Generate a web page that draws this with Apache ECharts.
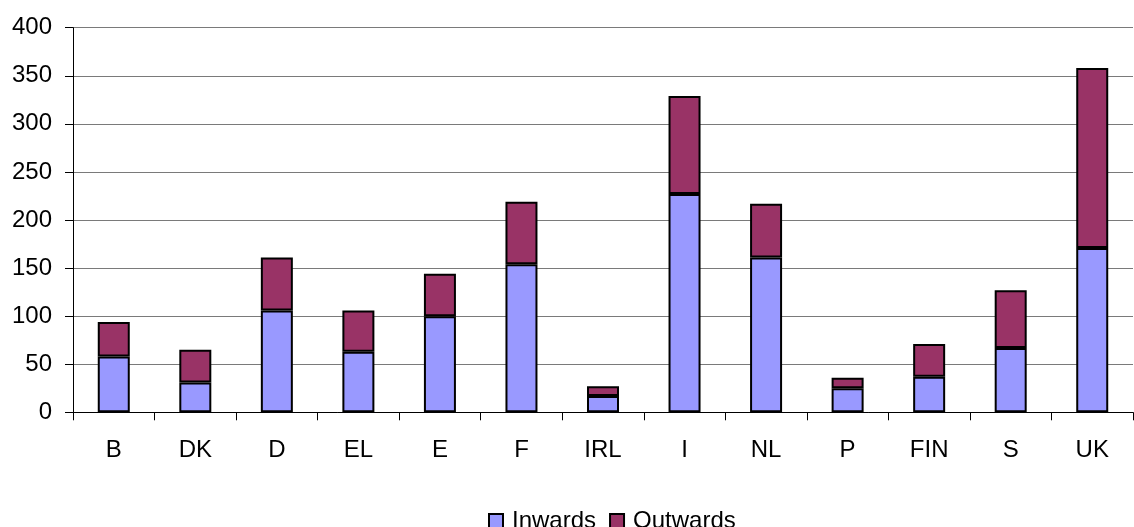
<!DOCTYPE html>
<html><head><meta charset="utf-8">
<script src="https://cdn.jsdelivr.net/npm/echarts@6/dist/echarts.min.js"></script>
<style>html,body{margin:0;padding:0;background:#fff}#c{width:1134px;height:527px}</style>
</head><body><div id="c"></div>
<script>
const categories = ['B','DK','D','EL','E','F','IRL','I','NL','P','FIN','S','UK'];
const inwards  = [58, 31, 106, 63, 100, 154, 17, 227, 161, 25, 37, 67, 171];
const outwards = [36, 34, 55, 43, 44, 65, 10, 102, 56, 11, 34, 60, 187];
const yTicks = [0, 50, 100, 150, 200, 250, 300, 350, 400];

const font = '"Liberation Sans", Arial, sans-serif';
const chart = echarts.init(document.getElementById('c'), null, {renderer: 'canvas'});
chart.setOption({
  animation: false,
  backgroundColor: '#fff',
  textStyle: {fontFamily: font},
  grid: {left: 73, right: 1, top: 27.7, bottom: 114.7, containLabel: false},
  legend: {
    data: ['Inwards', 'Outwards'],
    left: 483, top: 504,
    itemWidth: 14, itemHeight: 14, itemGap: 13,
    icon: 'rect',
    textStyle: {fontFamily: font, fontSize: 24, color: '#000', padding: [0, 0, 0, 4]}
  },
  xAxis: {
    type: 'category',
    data: categories,
    axisLine: {lineStyle: {color: '#000', width: 1}},
    axisTick: {show: true, length: 8, lineStyle: {color: '#000'}},
    axisLabel: {fontFamily: font, fontSize: 24, color: '#000', margin: 26},
    splitLine: {show: false}
  },
  yAxis: {
    type: 'value',
    min: yTicks[0], max: yTicks[yTicks.length - 1], interval: 50,
    axisLine: {show: true, lineStyle: {color: '#000', width: 1}},
    axisTick: {show: true, length: 8, lineStyle: {color: '#000'}},
    axisLabel: {fontFamily: font, fontSize: 24, color: '#000', margin: 21},
    splitLine: {show: true, lineStyle: {color: '#7a7a7a', width: 1}}
  },
  series: [
    {name: 'Inwards', type: 'bar', stack: 'a', data: inwards, barWidth: 32,
     itemStyle: {color: '#9999FF', borderColor: '#000', borderWidth: 2}},
    {name: 'Outwards', type: 'bar', stack: 'a', data: outwards, barWidth: 32,
     itemStyle: {color: '#993366', borderColor: '#000', borderWidth: 2}}
  ]
});
</script></body></html>
